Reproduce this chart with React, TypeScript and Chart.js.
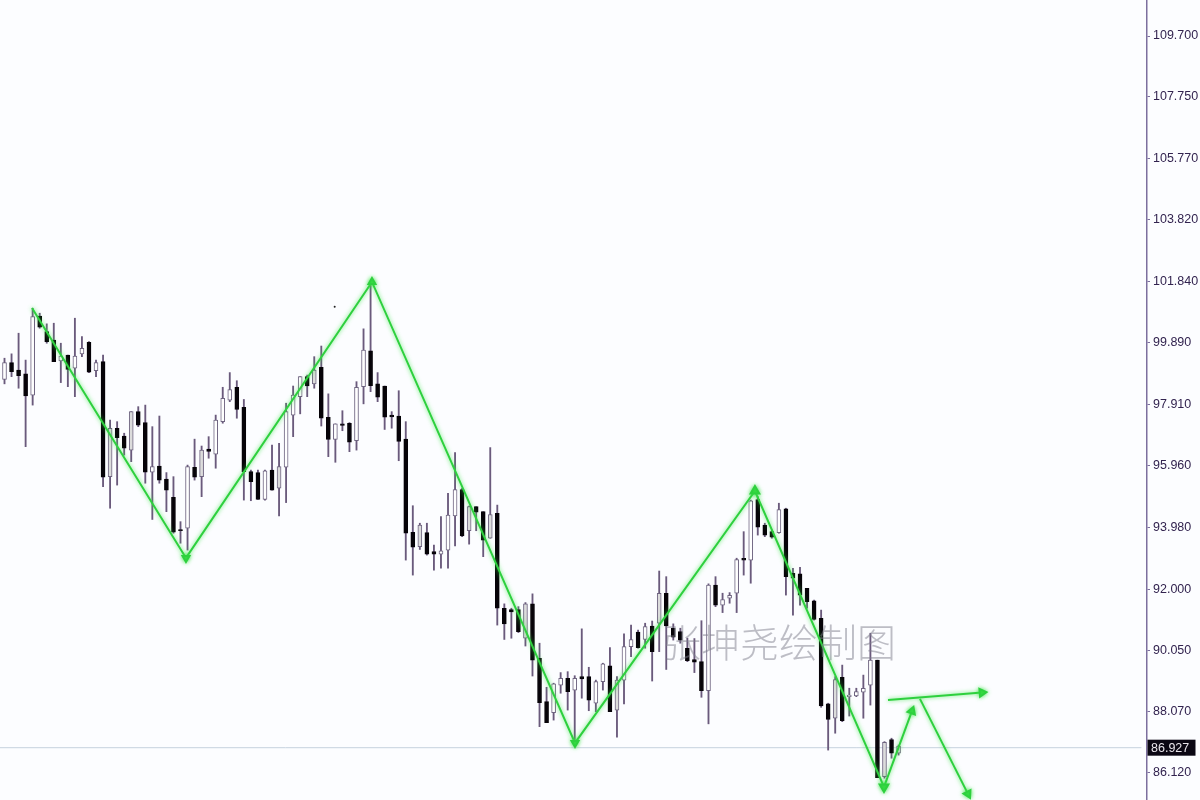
import React, { useEffect, useRef } from "react";
import { Chart, registerables } from "chart.js";

Chart.register(...registerables);

const yTicks = [109.7, 107.75, 105.77, 103.82, 101.84, 99.89, 97.91, 95.96, 93.98, 92.0, 90.05, 88.07, 86.12];
const lastPrice = 86.927;
const watermark = "张坤尧绘制图";

const highs = [
  99.39, 99.53, 100.19, 99.33, 100.99, 100.83, 100.49, 100.51, 99.87, 99.49,
  100.67, 100.08, 99.92, 99.33, 99.49, 97.41, 97.36, 96.99, 97.68, 97.84,
  97.89, 97.2, 97.54, 95.73, 95.6, 94.16, 95.97, 96.8, 96.58, 96.88,
  97.57, 98.46, 98.93, 98.67, 98.07, 95.81, 95.81, 95.81, 96.61, 96.67,
  97.95, 98.5, 98.8, 98.85, 99.44, 99.78, 98.25, 97.29, 97.71, 97.33,
  98.64, 100.33, 101.84, 98.93, 98.5, 97.68, 98.35, 97.36, 94.67, 94.11,
  94.11, 93.41, 94.32, 95.07, 96.37, 95.23, 94.66, 94.64, 94.48, 96.53,
  94.69, 91.53, 91.39, 91.44, 91.57, 91.85, 90.27, 88.86, 88.99, 89.33,
  89.36, 89.23, 90.73, 89.5, 89.09, 89.63, 90.13, 89.2, 90.57, 90.85,
  90.69, 90.91, 90.98, 92.58, 92.4, 90.89, 90.75, 90.43, 90.42, 90.99,
  92.17, 92.4, 91.87, 91.89, 92.99, 93.84, 94.85, 94.96, 94.11, 93.89,
  94.75, 94.59, 92.67, 92.7, 92.03, 91.65, 91.33, 88.35, 89.2, 89.57,
  88.83, 88.83, 89.25, 90.59, 89.73, 87.12, 87.23, 87.01,
];
const lows = [
  98.57, 98.8, 98.43, 96.56, 97.89, 100.35, 99.87, 99.28, 98.61, 98.48,
  98.16, 99.44, 98.93, 98.8, 95.28, 94.59, 95.33, 96.29, 96.08, 97.2,
  95.39, 94.23, 95.39, 94.48, 93.79, 93.47, 93.25, 95.49, 94.96, 96.19,
  95.87, 97.31, 98.0, 97.47, 94.85, 94.83, 94.87, 94.85, 95.17, 94.34,
  94.77, 96.88, 97.61, 98.16, 98.43, 97.22, 96.24, 96.06, 97.07, 96.4,
  96.45, 97.93, 98.32, 98.0, 97.11, 97.15, 96.11, 92.93, 92.45, 93.27,
  93.09, 92.61, 92.67, 92.67, 93.38, 93.68, 93.44, 93.87, 93.04, 93.63,
  90.85, 90.39, 90.43, 90.61, 90.18, 89.22, 87.6, 87.73, 87.81, 88.67,
  88.13, 87.07, 88.51, 88.11, 88.08, 88.77, 88.08, 87.26, 88.33, 89.84,
  90.11, 90.11, 89.06, 90.0, 89.43, 90.37, 90.27, 89.68, 89.33, 88.54,
  87.69, 91.44, 91.25, 91.55, 91.25, 92.45, 92.19, 93.73, 93.68, 93.63,
  93.79, 91.81, 91.17, 91.49, 91.39, 91.01, 88.22, 86.85, 87.39, 87.76,
  87.94, 88.56, 87.87, 88.29, 85.97, 85.95, 86.59, 86.69,
];
const opens = [
  98.71, 99.25, 99.01, 98.89, 98.21, 100.74, 100.24, 99.97, 99.3, 99.49,
  99.07, 99.53, 99.9, 98.99, 99.28, 95.6, 97.15, 96.9, 96.45, 97.68,
  97.33, 95.74, 95.94, 95.52, 94.94, 93.91, 93.95, 95.9, 95.6, 96.48,
  96.32, 97.36, 98.05, 98.46, 97.82, 95.76, 95.73, 94.87, 95.81, 95.23,
  95.9, 97.57, 98.16, 98.8, 98.57, 99.1, 97.5, 96.79, 97.29, 97.31,
  96.75, 98.48, 99.63, 98.57, 98.5, 97.57, 97.54, 96.8, 93.82, 93.36,
  93.81, 93.2, 93.12, 93.25, 94.34, 95.19, 93.87, 94.64, 94.48, 93.63,
  94.43, 91.39, 91.35, 91.35, 90.43, 91.53, 89.79, 88.4, 88.05, 88.93,
  89.15, 88.77, 89.2, 89.2, 88.35, 89.04, 89.55, 88.13, 89.09, 90.16,
  90.63, 90.39, 90.82, 90.91, 91.87, 90.75, 90.64, 90.11, 89.75, 89.68,
  88.75, 92.13, 91.49, 91.71, 91.87, 92.99, 92.93, 94.87, 94.05, 93.84,
  93.81, 94.57, 92.51, 92.49, 92.03, 91.63, 91.07, 88.33, 87.87, 89.18,
  88.56, 88.58, 88.7, 88.93, 89.73, 86.0, 87.19, 86.75,
];
const closes = [
  99.25, 98.96, 98.83, 98.18, 100.72, 100.38, 99.92, 99.28, 99.46, 99.03,
  99.46, 99.71, 98.94, 99.25, 95.58, 97.15, 96.85, 96.51, 97.68, 97.25,
  95.74, 95.92, 95.49, 95.17, 93.82, 93.87, 95.92, 95.58, 96.45, 96.41,
  97.41, 98.11, 98.39, 97.75, 95.76, 95.44, 94.87, 95.79, 95.17, 95.92,
  97.68, 98.21, 98.8, 98.5, 99.01, 97.47, 96.79, 97.29, 97.24, 96.7,
  98.46, 99.65, 98.51, 98.14, 97.5, 97.51, 96.73, 93.79, 93.34, 94.05,
  93.12, 93.12, 93.23, 94.37, 95.19, 93.7, 94.64, 94.46, 93.57, 94.39,
  91.39, 90.89, 91.27, 90.64, 91.53, 89.73, 88.37, 87.73, 88.97, 89.15,
  88.72, 89.15, 89.13, 88.45, 89.04, 89.61, 88.08, 89.09, 90.16, 90.39,
  90.13, 90.8, 90.0, 91.87, 90.82, 90.46, 90.37, 89.71, 89.66, 88.75,
  92.13, 91.49, 91.67, 91.8, 92.95, 92.93, 94.83, 93.98, 93.73, 93.66,
  94.55, 92.4, 92.35, 91.81, 91.6, 91.03, 88.26, 87.83, 89.11, 87.79,
  88.61, 88.72, 88.83, 89.73, 85.97, 87.1, 86.75, 86.98,
];
const greyBodies = [15, 18, 28, 39, 44, 59, 66, 69, 74, 87, 93, 118, 125, 127];

const zigzagX = [3.91, 25.78, 52.2, 81.04, 106.6, 124.93];
const zigzagY = [101.0, 93.0, 101.83, 87.08, 95.14, 85.67];
const reboundX = [124.93, 128.9];
const reboundY = [85.67, 88.1];
const levelX = [125.5, 138.85];
const levelY = [88.45, 88.69];
const dropX = [130.04, 136.86];
const dropY = [88.49, 85.45];
const speckX = [46.9];
const speckY = [101.04];

const XMIN = -0.639;
const XMAX = 162.29;
const YMIN = 85.253;
const YMAX = 110.853;
const GREEN = "#2ed03e";

const xy = (xs: number[], ys: number[]) => xs.map((x, i) => ({ x, y: ys[i] }));

const glowPlugin = {
  id: "glow",
  beforeDatasetDraw(chart: any, args: any) {
    if (chart.data.datasets[args.index].glow) {
      chart.ctx.save();
      chart.ctx.shadowColor = "rgba(60,230,70,0.8)";
      chart.ctx.shadowBlur = 4;
    }
  },
  afterDatasetDraw(chart: any, args: any) {
    if (chart.data.datasets[args.index].glow) chart.ctx.restore();
  },
};

const overlayPlugin = {
  id: "overlay",
  beforeDraw(chart: any) {
    const { ctx, width, height } = chart;
    ctx.save();
    ctx.fillStyle = "#fcfdff";
    ctx.fillRect(0, 0, width, height);
    ctx.restore();
  },
  afterDatasetsDraw(chart: any) {
    const { ctx } = chart;
    ctx.save();
    ctx.font = "300 39px 'Noto Sans CJK SC'";
    ctx.fillStyle = "rgba(125,125,140,0.5)";
    ctx.textBaseline = "middle";
    ctx.textAlign = "left";
    ctx.fillText(watermark, 662, 642);
    ctx.restore();
  },
  afterDraw(chart: any) {
    const { ctx, scales } = chart;
    const y = scales.y.getPixelForValue(lastPrice);
    ctx.save();
    ctx.fillStyle = "#0b0713";
    ctx.fillRect(scales.y.left + 0.5, y - 8, 48, 16);
    ctx.fillStyle = "#e8e4ea";
    ctx.font = "12.5px 'Liberation Sans'";
    ctx.textBaseline = "middle";
    ctx.textAlign = "left";
    ctx.fillText(lastPrice.toFixed(3), scales.y.left + 4, y + 0.5);
    ctx.restore();
  },
};

export default function App() {
  const ref = useRef<HTMLCanvasElement>(null);
  useEffect(() => {
    const idx = highs.map((_, i) => i);
    const isGrey = (i: number) => greyBodies.includes(i);
    const arrow = (xs: number[], ys: number[], rotation: number) => ({
      type: "line",
      glow: true,
      data: xy(xs, ys),
      borderColor: GREEN,
      borderWidth: 2,
      pointStyle: "triangle",
      pointRotation: [0, rotation],
      pointRadius: [0, 4.5],
      pointBackgroundColor: GREEN,
      pointBorderColor: GREEN,
      order: 2,
    });
    const chart = new Chart(ref.current as HTMLCanvasElement, {
      type: "bar",
      plugins: [overlayPlugin, glowPlugin],
      data: {
        datasets: [
          {
            type: "line",
            data: xy([XMIN, 161.5], [lastPrice, lastPrice]),
            borderColor: "#c6d2de",
            borderWidth: 1,
            pointRadius: 0,
            order: 9,
          },
          {
            type: "bar",
            data: idx.map((i) => ({ x: i, y: [lows[i], highs[i]] })),
            backgroundColor: "#6a5a7c",
            barThickness: 1.2,
            grouped: false,
            order: 8,
          },
          {
            type: "bar",
            data: idx.map((i) => ({ x: i, y: [opens[i], closes[i]] })),
            backgroundColor: idx.map((i) =>
              closes[i] < opens[i] ? "#060308" : isGrey(i) ? "#dcdcdc" : "#ffffff"
            ),
            borderColor: idx.map((i) =>
              closes[i] < opens[i] ? "#060308" : "#6e6480"
            ),
            borderWidth: 1,
            borderSkipped: false,
            barThickness: 4,
            grouped: false,
            order: 7,
          },
          {
            type: "line",
            data: xy(speckX, speckY),
            showLine: false,
            pointRadius: 1,
            pointBackgroundColor: "#222222",
            pointBorderWidth: 0,
            order: 6,
          },
          {
            type: "line",
            glow: true,
            data: xy(zigzagX, zigzagY),
            borderColor: GREEN,
            borderWidth: 2,
            pointStyle: "triangle",
            pointRotation: [0, 180, 0, 180, 0, 180],
            pointRadius: [0, 4, 4, 4, 5, 5],
            pointBackgroundColor: GREEN,
            pointBorderColor: GREEN,
            order: 2,
          },
          arrow(reboundX, reboundY, 20),
          arrow(levelX, levelY, 85),
          arrow(dropX, dropY, 153),
        ] as any,
      },
      options: {
        responsive: false,
        animation: false,
        layout: { padding: 0, autoPadding: false },
        plugins: { legend: { display: false }, tooltip: { enabled: false } },
        scales: {
          x: { type: "linear", min: XMIN, max: XMAX, display: false, offset: false },
          y: {
            type: "linear",
            position: "right",
            min: YMIN,
            max: YMAX,
            afterBuildTicks(scale: any) {
              scale.ticks = yTicks.map((value) => ({ value }));
            },
            afterFit(scale: any) {
              scale.width = 53;
              scale.paddingTop = 0;
              scale.paddingBottom = 0;
            },
            border: { color: "#7c6f9e", width: 1.5 },
            grid: { drawOnChartArea: false, tickLength: 3, color: "#7c6f9e" },
            ticks: {
              autoSkip: false,
              padding: 3,
              color: "#32234f",
              font: { family: "'Liberation Sans'", size: 12.5 },
              callback: (v: any) => Number(v).toFixed(3),
            },
          },
        },
      } as any,
    });
    return () => chart.destroy();
  }, []);
  return (
    <canvas
      ref={ref}
      width={1200}
      height={800}
      style={{
        position: "fixed",
        left: 0,
        top: 0,
        width: 1200,
        height: 800,
        filter: "blur(0.45px)",
      }}
    />
  );
}
